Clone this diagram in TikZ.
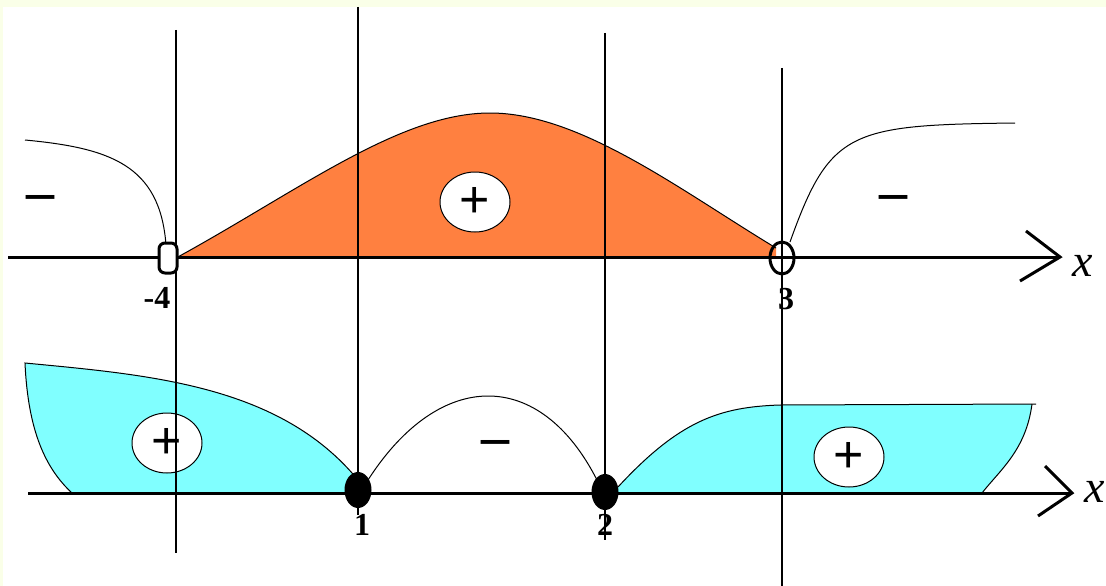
\documentclass[tikz,border=0pt]{standalone}
\usepackage{fontspec}
\setmainfont{Liberation Serif}
\newfontfamily\plusfont{Liberation Sans}
\usetikzlibrary{shapes.geometric}

\begin{document}
\begin{tikzpicture}[x=1pt, y=-1pt]
    % Define colours
    \definecolor{paperColour}{HTML}{FAFFE8}
    \definecolor{posColour}{HTML}{FF8040}
    \definecolor{cyanColour}{HTML}{80FFFF}

    \tikzset{
        axisline/.style={line width=3pt},
        guide/.style={line width=1.2pt},
        graph/.style={line width=1pt},
        signbox/.style={ellipse, draw, line width=1pt, fill=white, minimum width=70pt, minimum height=60pt, inner sep=0pt, font=\plusfont\fontsize{52}{52}\selectfont},
        minussign/.style={font=\bfseries\fontsize{56}{56}\selectfont},
        tick/.style={font=\bfseries\fontsize{32}{32}\selectfont},
        axislabel/.style={font=\itshape\fontsize{46}{46}\selectfont},
        closedpt/.style={ellipse, fill=black, minimum width=27pt, minimum height=36pt, inner sep=0pt},
    }

    % Background with cream edge
    \fill[paperColour] (0,0) rectangle (1106,586);
    \fill[white] (3,7) rectangle (1106,586);
    \useasboundingbox (0,0) rectangle (1106,586);

    % Top: filled positive part between -4 and 3
    \fill[posColour] (176,258) .. controls (300,190) and (400,113) .. (490,113)
        .. controls (580,113) and (680,190) .. (776,248) -- (776,258) -- cycle;
    \draw[graph] (176,258) .. controls (300,190) and (400,113) .. (490,113)
        .. controls (580,113) and (680,190) .. (776,248);

    % Top: negative branches
    \draw[graph] (25,140) .. controls (110,148) and (160,165) .. (166,245);
    \draw[graph] (790,242) .. controls (830,130) and (850,125) .. (1015,123);

    % Bottom: positive parts
    \fill[cyanColour] (25,363) .. controls (150,375) and (280,385) .. (358,480)
        -- (358,493) -- (72,493) .. controls (45,468) and (28,430) .. cycle;
    \draw[graph] (72,493) .. controls (45,468) and (28,430) .. (25,363)
        .. controls (150,375) and (280,385) .. (358,480);
    \fill[cyanColour] (618,487) .. controls (680,420) and (720,407) .. (780,405)
        -- (1032,404) .. controls (1026,450) and (1000,470) .. (982,493) -- (618,493) -- cycle;
    \draw[graph] (618,487) .. controls (680,420) and (720,407) .. (780,405)
        -- (1036,404);
    \draw[graph] (1032,404) .. controls (1026,450) and (1000,470) .. (982,493);

    % Bottom: negative hump between 1 and 2
    \draw[graph] (368,480) .. controls (440,368) and (540,368) .. (597,480);

    % Sign ovals and minus signs
    \node[signbox] (plusTop) at (475,202) {+};
    \node[signbox] (plusLeft) at (167,443) {+};
    \node[signbox] (plusRight) at (849,457) {+};
    \node[minussign] (minusLeft) at (40,203) {–};
    \node[minussign] (minusRight) at (893,203) {–};
    \node[minussign] (minusMid) at (495,448) {–};

    % Vertical guide lines
    \coordinate (gA1) at (176,30);  \coordinate (gA2) at (176,553);
    \coordinate (gB1) at (358,7);   \coordinate (gB2) at (358,515);
    \coordinate (gC1) at (605,33);  \coordinate (gC2) at (605,540);
    \coordinate (gD1) at (782,68);  \coordinate (gD2) at (782,586);
    \foreach \g in {A,B,C,D}
        \draw[guide] (g\g1) -- (g\g2);

    % Axes
    \coordinate (topStart) at (8,257);
    \coordinate (topTip) at (1060,257);
    \coordinate (topArmUp) at (1026,231);
    \coordinate (topArmDown) at (1020,281);
    \draw[axisline] (topStart) -- (topTip);
    \draw[axisline] (topArmUp) -- (topTip) -- (topArmDown);
    \node[axislabel] (topX) at (1083,266) {x};

    \coordinate (botStart) at (28,493);
    \coordinate (botTip) at (1072,493);
    \coordinate (botArmUp) at (1045,466);
    \coordinate (botArmDown) at (1038,516);
    \draw[axisline] (botStart) -- (botTip);
    \draw[axisline] (botArmUp) -- (botTip) -- (botArmDown);
    \node[axislabel] (botX) at (1095,492) {x};

    % Excluded points
    \node[draw, line width=3pt, fill=white, rounded corners=6pt, minimum width=18pt, minimum height=30pt, inner sep=0pt] (ptMinusFour) at (168,258) {};
    \node[ellipse, draw, line width=3pt, minimum width=24pt, minimum height=32pt, inner sep=0pt] (ptThree) at (782,258) {};

    % Included points
    \node[closedpt] (ptOne) at (358,490) {};
    \node[closedpt] (ptTwo) at (605,492) {};

    % Point labels
    \node[tick] (labMinusFour) at (157,298) {-4};
    \node[tick] (labThree) at (786,299) {3};
    \node[tick] (labOne) at (362,525) {1};
    \node[tick] (labTwo) at (605,525) {2};
\end{tikzpicture}
\end{document}
